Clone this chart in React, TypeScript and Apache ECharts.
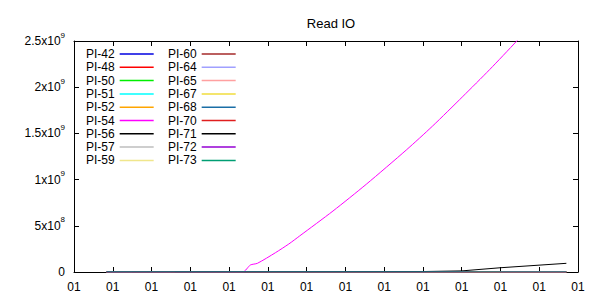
import React, { useEffect, useRef } from "react";
import * as echarts from "echarts";

const title = "Read IO";
const xTickCount = 13;
const xTickLabel = "01";
const yTickLabels = ["0", "5x10^8", "1x10^9", "1.5x10^9", "2x10^9", "2.5x10^9"];
const yStep = 5e8;
const yMax = 2.5e9;

const seriesNames = [
  "PI-42", "PI-48", "PI-50", "PI-51", "PI-52", "PI-54", "PI-56", "PI-57", "PI-59",
  "PI-60", "PI-64", "PI-65", "PI-67", "PI-68", "PI-70", "PI-71", "PI-72", "PI-73",
];
const seriesColors = [
  "#0000e0", "#ff0000", "#00ee00", "#00ffff", "#ffa500", "#ff00ff", "#000000", "#bebebe", "#f0e68c",
  "#a52a2a", "#a0a0ff", "#ffa0a0", "#f0dc3c", "#1a6ea6", "#e01e1e", "#000000", "#9400d3", "#009e73",
];

const pi42: number[][] = [[0.84, 2e6], [3.0, 3e6], [6.0, 1e6], [12.7, 0]];
const pi48: number[][] = [[0.84, 0], [12.7, 0]];
const pi50: number[][] = [[0.84, 1e6], [12.7, 1e6]];
const pi51: number[][] = [[0.84, 1e6], [4.0, 1e6]];
const pi52: number[][] = [[0.84, 0], [12.7, 2e6]];
const pi54: number[][] = [
  [0.84, 0], [4.35, 0], [4.55, 7.6e7], [4.73, 9.4e7], [5.2, 2.1e8], [5.54, 3.03e8], [5.82, 3.9e8],
  [6.68, 6.6e8], [7.54, 9.5e8], [8.57, 1.32e9], [9.25, 1.58e9], [10.03, 1.9e9],
  [10.72, 2.19e9], [11.42, 2.5e9], [12.0, 2.77e9], [12.7, 3.1e9],
];
const pi56: number[][] = [[5.5, 4e6], [7.5, 5e6]];
const pi57: number[][] = [[0.84, 2e6], [12.7, 2e6]];
const pi59: number[][] = [[0.84, 0], [12.7, 0]];
const pi60: number[][] = [[1.5, 1e6], [5.0, 1e6]];
const pi64: number[][] = [[0.84, 2e6], [2.5, 2e6]];
const pi65: number[][] = [[0.84, 0], [12.7, 0]];
const pi67: number[][] = [[10.2, 3e6], [11.0, 4e6]];
const pi68: number[][] = [[2.6, 2e6], [3.5, 2e6], [8.0, 3e6], [9.1, 3e6]];
const pi70: number[][] = [[0.84, 0], [12.7, 0]];
const pi71: number[][] = [[0.84, 0], [9.0, 5e6], [10.0, 1.2e7], [11.0, 4.6e7], [12.7, 9.4e7]];
const pi72: number[][] = [[0.84, 0], [12.7, 0]];
const pi73: number[][] = [[0.84, 1e6], [12.7, 1e6]];

const seriesData = [
  pi42, pi48, pi50, pi51, pi52, pi54, pi56, pi57, pi59,
  pi60, pi64, pi65, pi67, pi68, pi70, pi71, pi72, pi73,
];

const FONT = "'Liberation Sans', Arial, sans-serif";

function yLabel(v: number): string {
  const s = yTickLabels[Math.round(v / yStep)] ?? "";
  const parts = s.split("^");
  if (parts.length === 1) return `{a|${s}}`;
  return `{a|${parts[0]}}{s|${parts[1]}}`;
}

export default function App() {
  const ref = useRef<HTMLDivElement>(null);
  useEffect(() => {
    if (!ref.current) return;
    const chart = echarts.init(ref.current, undefined, { renderer: "svg" });
    const axisCommon = {
      axisLine: { show: true, onZero: false, lineStyle: { color: "#000", width: 1 } },
      axisTick: { show: true, inside: true, length: 5, lineStyle: { color: "#000" } },
      splitLine: { show: false },
    };
    const legendCommon = {
      orient: "vertical" as const,
      align: "right" as const,
      padding: 0,
      itemWidth: 34,
      itemHeight: 12,
      itemGap: 1.3,
      selectedMode: false,
      itemStyle: { opacity: 0 },
      lineStyle: { width: 1.5 },
      textStyle: { fontFamily: FONT, fontSize: 12, color: "#000", lineHeight: 12 },
    };
    chart.setOption({
      animation: false,
      backgroundColor: "#fff",
      title: {
        text: title,
        left: 326,
        textAlign: "center",
        top: 12,
        textStyle: { fontFamily: FONT, fontSize: 13, fontWeight: "normal", color: "#000" },
      },
      legend: [
        { ...legendCommon, left: 86, top: 48, data: seriesNames.slice(0, 9) },
        { ...legendCommon, left: 168, top: 48, data: seriesNames.slice(9) },
      ],
      grid: { left: 74, right: 22, top: 41, bottom: 28, containLabel: false },
      xAxis: [
        {
          type: "value",
          min: 0,
          max: xTickCount,
          interval: 1,
          position: "bottom",
          ...axisCommon,
          axisLabel: {
            margin: 9,
            fontFamily: FONT,
            fontSize: 12,
            color: "#000",
            formatter: () => xTickLabel,
          },
        },
        {
          type: "value",
          min: 0,
          max: xTickCount,
          interval: 1,
          position: "top",
          ...axisCommon,
          axisLabel: { show: false },
        },
      ],
      yAxis: [
        {
          type: "value",
          min: 0,
          max: yMax,
          interval: yStep,
          position: "left",
          ...axisCommon,
          axisLabel: {
            margin: 9,
            color: "#000",
            formatter: yLabel,
            rich: {
              a: { fontFamily: FONT, fontSize: 12, color: "#000" },
              s: { fontFamily: FONT, fontSize: 8, color: "#000", padding: [0, 0, 12, 0] },
            },
          },
        },
        {
          type: "value",
          min: 0,
          max: yMax,
          interval: yStep,
          position: "right",
          ...axisCommon,
          axisLabel: { show: false },
        },
      ],
      series: seriesNames.map((name, i) => ({
        name,
        type: "line",
        data: seriesData[i],
        xAxisIndex: 0,
        yAxisIndex: 0,
        symbol: "none",
        clip: true,
        smooth: name === "PI-54" ? 0.25 : false,
        color: seriesColors[i],
        itemStyle: { color: seriesColors[i] },
        lineStyle: { width: 1, color: seriesColors[i] },
      })),
    });
    return () => chart.dispose();
  }, []);
  return (
    <div
      ref={ref}
      style={{ position: "fixed", left: 0, top: 0, width: 600, height: 300 }}
    />
  );
}
